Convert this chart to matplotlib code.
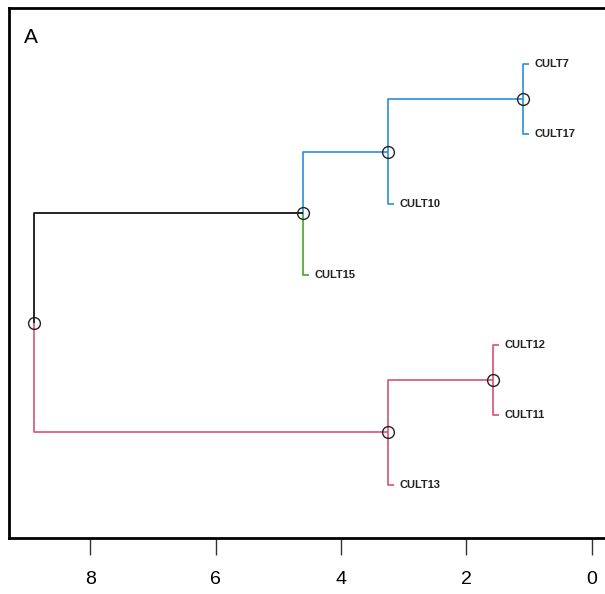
import matplotlib
matplotlib.use("Agg")
import matplotlib.pyplot as plt

# leaves in display order (top to bottom)
leaves = ["CULT7", "CULT17", "CULT10", "CULT15", "CULT12", "CULT11", "CULT13"]

# merges, scipy style: ids < 7 are leaves, 7 + i is the i-th merge
merge_left = [0, 2, 3, 4, 6, 9]
merge_right = [1, 7, 8, 5, 10, 11]
merge_height = [1.10, 3.25, 4.61, 1.58, 3.25, 8.90]

# colour of the branch leading to each node (leaves, then merges)
blue, green, red = "#2790D8", "#45A32E", "#DA5274"
branch_color = [blue, blue, blue, green, red, red, red,
                blue, blue, "black", red, red]

hang = 0.1
n = len(leaves)

plt.rcParams['font.family'] = ['Liberation Sans', 'DejaVu Sans']

fig = plt.figure(figsize=(6.05, 5.94), dpi=100)
ax = fig.add_axes([9 / 605, 56 / 594, 1 - 9 / 605, 530 / 594])

# y position of every node
ypos = {i: i + 1 for i in range(n)}
for i, (a, b) in enumerate(zip(merge_left, merge_right)):
    ypos[n + i] = (ypos[a] + ypos[b]) / 2

for i, (a, b, h) in enumerate(zip(merge_left, merge_right, merge_height)):
    p = n + i
    for c in (a, b):
        hc = merge_height[c - n] if c >= n else h - hang
        ax.plot([h, h, hc], [ypos[p], ypos[c], ypos[c]], color=branch_color[c], lw=1.2,
                solid_capstyle='butt')
        if c < n:
            ax.annotate(leaves[c], (hc, ypos[c]), xytext=(4, 0), textcoords='offset points',
                        ha='left', va='center', fontsize=8, fontweight='bold', color='#222222')

for i, h in enumerate(merge_height):
    ax.plot(h, ypos[n + i], 'o', mfc='none', mec='#222222', ms=8.5, mew=1, zorder=5)

ax.set_xlim(9.30, -0.21)
ax.set_ylim(7.755, 0.202)
ax.set_xticks([8, 6, 4, 2, 0])
ax.set_yticks([])
ax.tick_params(axis='x', length=12, width=1, labelsize=14, pad=12, color='#333333')
ax.spines['right'].set_visible(False)
for s in ('left', 'top', 'bottom'):
    ax.spines[s].set_linewidth(2)

ax.text(0.025, 0.945, "A", transform=ax.transAxes, fontsize=15, ha='left', va='center')

fig.savefig("out.png", dpi=100)
